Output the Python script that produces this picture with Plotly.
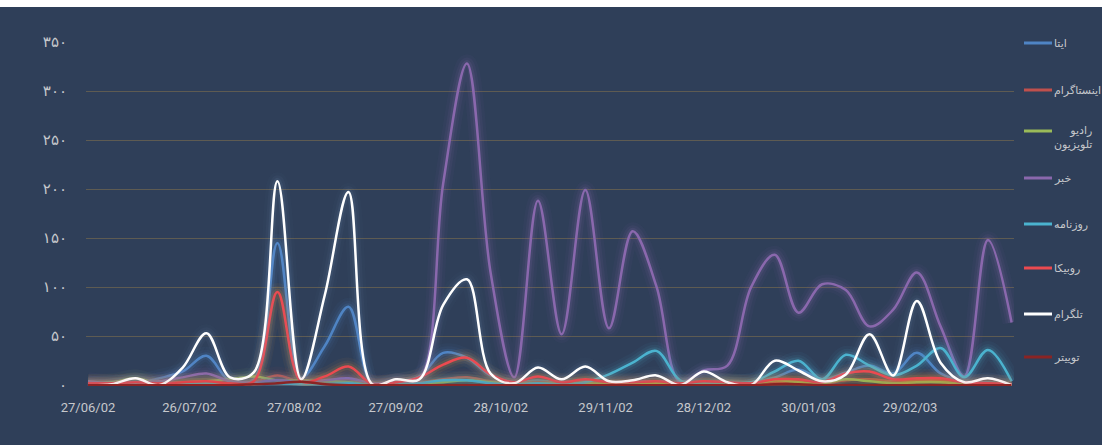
import pandas as pd
import plotly.graph_objects as go

# ---- data -------------------------------------------------------------
weeks = pd.date_range(start="2023-09-18", periods=40, freq="7D")

tick_dates = ["2023-09-18", "2023-10-18", "2023-11-18", "2023-12-18", "2024-01-18",
              "2024-02-18", "2024-03-18", "2024-04-18", "2024-05-18"]
tick_labels = ["27/06/02", "26/07/02", "27/08/02", "27/09/02", "28/10/02",
               "29/11/02", "28/12/02", "30/01/03", "29/02/03"]

y_tick_vals = [0, 50, 100, 150, 200, 250, 300, 350]
y_tick_text = ["۰", "۵۰", "۱۰۰", "۱۵۰", "۲۰۰", "۲۵۰", "۳۰۰", "۳۵۰"]

eitaa = [0, 1, 2, 7, 14, 30, 4, 6, 145, 8, 40, 80, 1, 3, 9, 33, 28, 10, 3, 5,
         2, 4, 2, 3, 4, 2, 3, 2, 3, 8, 16, 6, 13, 20, 12, 33, 12, 4, 3, 1]
instagram = [1, 1, 2, 1, 2, 3, 2, 3, 10, 3, 4, 6, 1, 2, 3, 6, 8, 4, 2, 3,
             2, 3, 2, 2, 3, 1, 2, 2, 1, 3, 4, 2, 5, 6, 4, 5, 5, 2, 2, 1]
radio_tv = [2, 3, 7, 2, 3, 4, 6, 9, 5, 5, 4, 3, 1, 2, 2, 3, 5, 3, 1, 2,
            1, 2, 1, 1, 2, 1, 2, 2, 1, 5, 3, 2, 6, 4, 2, 3, 3, 1, 1, 0]
news = [4, 2, 3, 4, 8, 12, 4, 3, 5, 3, 5, 7, 2, 3, 6, 206, 328, 115, 8, 188,
        52, 199, 58, 157, 101, 3, 15, 20, 100, 133, 74, 103, 97, 60, 77, 115, 60, 9, 148, 64]
newspaper = [0, 1, 1, 0, 1, 2, 1, 1, 2, 1, 1, 2, 0, 1, 2, 5, 5, 2, 1, 2,
             1, 3, 11, 23, 35, 5, 3, 3, 3, 14, 25, 6, 31, 20, 10, 20, 38, 8, 36, 4]
rubika = [2, 2, 3, 2, 3, 4, 2, 4, 95, 4, 9, 19, 1, 3, 8, 21, 28, 11, 3, 9,
          3, 6, 3, 3, 4, 2, 4, 3, 2, 6, 6, 3, 12, 14, 6, 7, 7, 3, 2, 1]
telegram = [0, 1, 7, 0, 18, 53, 8, 13, 208, 6, 92, 197, 1, 6, 6, 82, 108, 12, 2, 18,
            6, 19, 4, 5, 10, 0, 14, 3, 0, 25, 15, 4, 11, 52, 10, 86, 23, 3, 7, 0]
twitter = [0, 0, 0, 0, 0, 0, 0, 1, 2, 3.5, 1, 0, 0, 0, 0, 0, 0, 0, 0, 0,
           0, 0, 0, 0, 0, 0, 0, 0, 0, 1, 1, 0, 0, 0, 0, 0, 0, 0, 0, 0]

series_names = ["ایتا", "اینستاگرام", "رادیو<br>تلویزیون", "خبر", "روزنامه", "روبیکا", "تلگرام", "توییتر"]
series_values = [eitaa, instagram, radio_tv, news, newspaper, rubika, telegram, twitter]

# ---- style ------------------------------------------------------------
line_colors = ["#4f84c4", "#c0504d", "#9bbb59", "#8a68ad", "#4bb3cf", "#ec4a50", "#ffffff", "#8a2424"]
glow_colors = ["#4f84c4", "#c0504d", "#9bbb59", "#8a68ad", "#4bb3cf", "#e8963a", "#8fb4e8", "#8a2424"]
glow_strength = [1.0, 0.8, 0.9, 1.0, 1.0, 1.0, 0.5, 0.4]

BG = "#2f3f59"
TXT = "#c6c8cc"

# plot-area geometry (pixels) used only to place the hand-drawn legend
W, H = 1102, 445
L, R, T, B = 86, 1014, 42, 386
legend_row_px = [43, 90, 131, 178, 224, 268, 314, 357]


def rgba(hex_color, a):
    h = hex_color.lstrip("#")
    r, g, b = int(h[0:2], 16), int(h[2:4], 16), int(h[4:6], 16)
    return f"rgba({r},{g},{b},{a})"


def px_x(px):
    return (px - L) / (R - L)


def px_y(py):
    return (B - py) / (B - T)


fig = go.Figure()
for i, (name, vals) in enumerate(zip(series_names, series_values)):
    s = glow_strength[i]
    for w, a in [(18, 0.05), (12, 0.08), (7, 0.14)]:
        fig.add_trace(go.Scatter(
            x=weeks, y=vals, mode="lines",
            line=dict(color=rgba(glow_colors[i], a * s), width=w, shape="spline", smoothing=1.0),
            hoverinfo="skip", showlegend=False,
        ))
    fig.add_trace(go.Scatter(
        x=weeks, y=vals, mode="lines", name=name.replace("<br>", " "),
        line=dict(color=line_colors[i], width=2.5, shape="spline", smoothing=1.0),
        showlegend=False,
    ))

# legend (drawn by hand so the spacing matches)
LEG_FONT = dict(size=11, color=TXT, family="DejaVu Sans, sans-serif")
for i, name in enumerate(series_names):
    yp = px_y(legend_row_px[i])
    fig.add_shape(type="line", xref="paper", yref="paper",
                  x0=px_x(1024), x1=px_x(1052), y0=yp, y1=yp,
                  line=dict(color=line_colors[i], width=3))
    if "<br>" in name:
        fig.add_annotation(xref="paper", yref="paper", x=px_x(1052), y=px_y(legend_row_px[i] - 9),
                           xanchor="left", yanchor="top", align="right", showarrow=False,
                           text=name, font=LEG_FONT)
    else:
        fig.add_annotation(xref="paper", yref="paper", x=px_x(1052), y=yp,
                           xanchor="left", yanchor="middle", showarrow=False,
                           text=name, font=LEG_FONT)

# thin white strip above the dark panel
fig.add_shape(type="rect", xref="paper", yref="paper", x0=-0.2, x1=1.2,
              y0=px_y(7), y1=px_y(-20), fillcolor="#ffffff", line_width=0, layer="above")

fig.update_layout(
    width=W, height=H,
    paper_bgcolor=BG, plot_bgcolor=BG,
    margin=dict(l=L, r=W - R, t=T, b=H - B, autoexpand=False),
    font=dict(family="DejaVu Sans, sans-serif", color=TXT, size=12),
    showlegend=False,
    xaxis=dict(
        range=["2023-09-17 10:00", "2024-06-17 17:00"],
        tickvals=tick_dates, ticktext=tick_labels,
        showgrid=False, zeroline=False, showline=False, ticks="",
        tickfont=dict(family="Roboto, sans-serif", size=13, color=TXT),
        ticklabelstandoff=12, automargin=False,
    ),
    yaxis=dict(
        range=[-0.8, 350],
        tickvals=y_tick_vals, ticktext=y_tick_text,
        showgrid=True, gridcolor="#5e5b52", gridwidth=1,
        zeroline=False, showline=False, ticks="",
        tickfont=dict(family="DejaVu Sans, sans-serif", size=15, color=TXT),
        ticklabelstandoff=18, automargin=False,
    ),
)

fig.write_html(
    "out.html",
    config={"displayModeBar": False},
    post_script="document.body.style.margin='0';document.body.style.overflow='hidden';",
)
